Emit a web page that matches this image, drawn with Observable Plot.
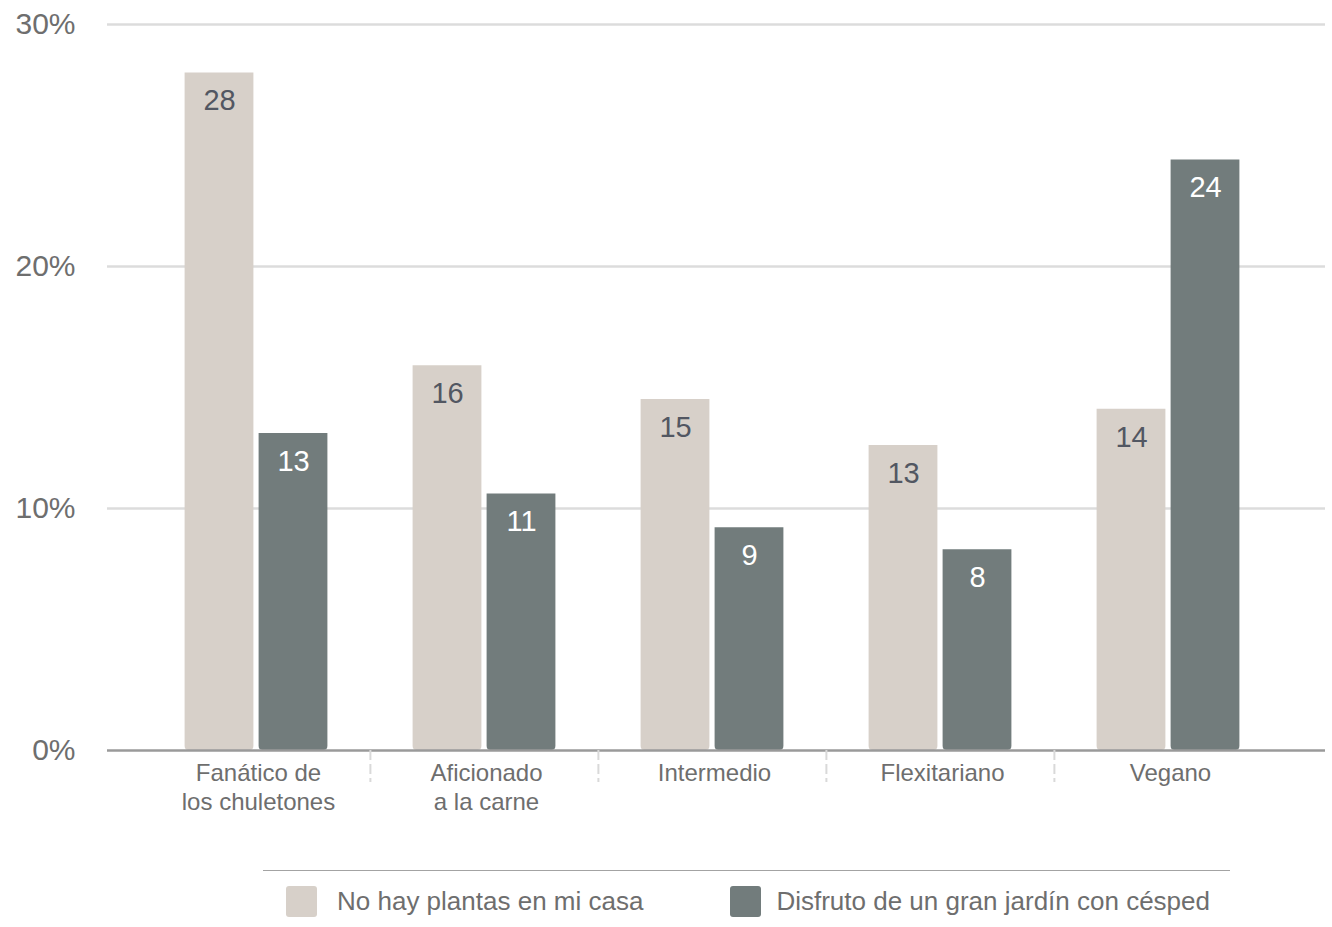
<!DOCTYPE html>
<html>
<head>
<meta charset="utf-8">
<script src="https://cdn.jsdelivr.net/npm/d3@7"></script>
<script src="https://cdn.jsdelivr.net/npm/@observablehq/plot@0.6"></script>
<style>
  html, body { margin: 0; padding: 0; background: #fff; }
  body { font-family: "Liberation Sans", Arial, Helvetica, sans-serif; width: 1332px; }
  #legend {
    margin-top: 30px;
    margin-left: 263px;
    width: 967px;
    border-top: 1.5px solid #a3a3a3;
    padding-top: 15px;
    display: flex;
    align-items: center;
    padding-left: 23px;
    box-sizing: border-box;
  }
  .item { display: flex; align-items: center; color: #6e6e6e; font-size: 26px; }
  .sw { width: 31px; height: 31px; border-radius: 3px; margin-right: 20px; }
  .item + .item { margin-left: 87px; }
  .item + .item .sw { margin-right: 15px; }
</style>
</head>
<body>
<div id="chart"></div>
<div id="legend"></div>
<script>
const categories = ["Fanático de los chuletones", "Aficionado a la carne", "Intermedio", "Flexitariano", "Vegano"];
const categoryLines = ["Fanático de\nlos chuletones", "Aficionado\na la carne", "Intermedio", "Flexitariano", "Vegano"];
const seriesNames = ["No hay plantas en mi casa", "Disfruto de un gran jardín con césped"];
const noPlants = [28.0, 15.9, 14.5, 12.6, 14.1];
const bigGarden = [13.1, 10.6, 9.2, 8.3, 24.4];
const yTicks = [0, 10, 20, 30];
const colors = ["#d7d0c9", "#727c7c"];

const rows = categories.map((c, i) => ({category: c, a: noPlants[i], b: bigGarden[i]}));

const W = 1332, H = 840, ML = 141.5, MR = 49.5, MT = 24, MB = 90;
const step = (W - ML - MR) / categories.length;
const barW = 69, gap = 5;
const outer = (step - 2 * barW - gap) / 2;
const offA = outer + barW / 2 - step / 2;
const offB = -offA;

const chart = Plot.plot({
  width: W,
  height: H,
  marginLeft: ML,
  marginRight: MR,
  marginTop: MT,
  marginBottom: MB,
  style: {fontFamily: "'Liberation Sans', Arial, Helvetica, sans-serif", color: "#6e6e6e", background: "#fff"},
  x: {domain: categories, padding: 0, label: null},
  y: {domain: [0, 30], label: null},
  marks: [
    Plot.ruleY(yTicks.filter(t => t > 0), {stroke: "#dcdcdc", strokeWidth: 2.5, insetLeft: -34.5, insetRight: -42.5}),
    Plot.barY(rows, {x: "category", y: "a", fill: colors[0], insetLeft: outer, insetRight: step - outer - barW, ry2: 4}),
    Plot.barY(rows, {x: "category", y: "b", fill: colors[1], insetLeft: outer + barW + gap, insetRight: outer, ry2: 4}),
    Plot.ruleY([0], {stroke: "#9a9a9a", strokeWidth: 2.5, insetLeft: -34.5, insetRight: -42.5}),
    Plot.text(rows, {x: "category", y: "a", text: d => String(Math.round(d.a)), dx: offA, dy: 28, fill: "#525762", fontSize: 29}),
    Plot.text(rows, {x: "category", y: "b", text: d => String(Math.round(d.b)), dx: offB, dy: 28, fill: "#ffffff", fontSize: 29}),
    Plot.axisY({ticks: yTicks, tickFormat: d => d + "%", tickSize: 0, tickPadding: 66.5, fontSize: 30, label: null}),
    Plot.axisX({tickSize: 0, tickPadding: 11, fontSize: 24, lineHeight: 1.17, dx: 2, label: null,
      tickFormat: d => categoryLines[categories.indexOf(d)]}),
    Plot.axisX({ticks: categories.slice(1), tickSize: 32, tickFormat: () => "", dx: -step / 2, label: null,
      stroke: "#d9d9d9", strokeWidth: 2, strokeDasharray: "10,4"})
  ]
});
document.getElementById("chart").appendChild(chart);

const legend = document.getElementById("legend");
seriesNames.forEach((name, i) => {
  const item = document.createElement("div");
  item.className = "item";
  const sw = document.createElement("div");
  sw.className = "sw";
  sw.style.background = colors[i];
  const label = document.createElement("span");
  label.textContent = name;
  item.appendChild(sw);
  item.appendChild(label);
  legend.appendChild(item);
});
</script>
</body>
</html>
